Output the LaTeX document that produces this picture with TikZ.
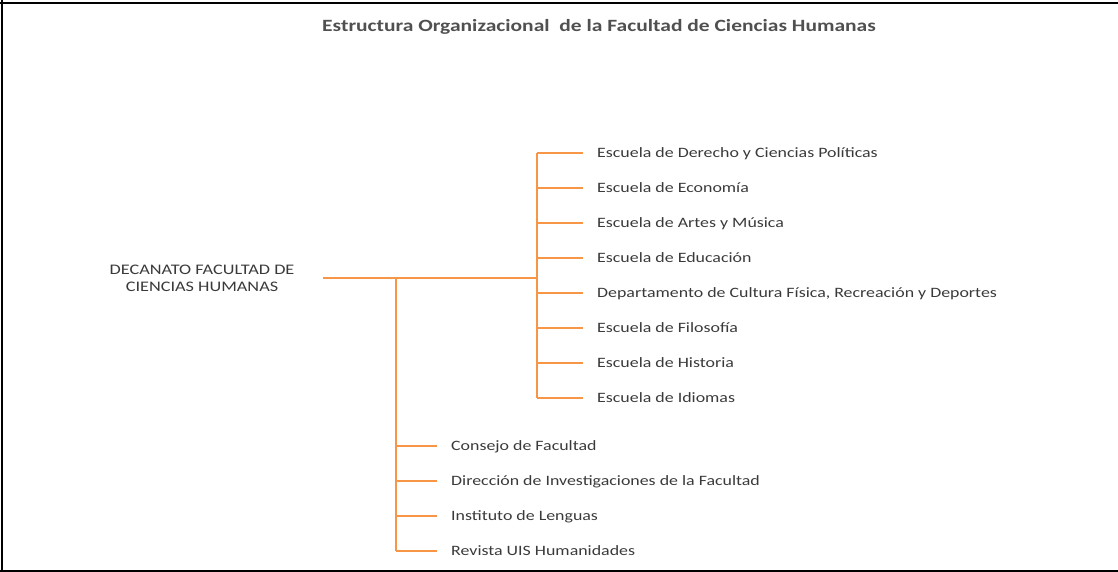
\documentclass[tikz,border=0pt]{standalone}
\usepackage{fontspec}
\setmainfont{Carlito}[FakeStretch=1.25]
\definecolor{naranja}{HTML}{F79646}
\definecolor{texto}{HTML}{3A3A3A}
\definecolor{titulo}{HTML}{505050}
\begin{document}
\begin{tikzpicture}[x=1pt,y=-1pt,line join=round,
	rama/.style={anchor=west,inner xsep=14pt,inner ysep=0pt,text height=10pt,text depth=1pt,text=texto,font=\fontsize{14.3}{17}\selectfont},
	linea/.style={naranja,line width=1.4pt}]
	\useasboundingbox (0,0) rectangle (1118,572);
	\draw[line width=2.2pt] (0,3)--(1118,3) (2,0)--(2,572) (0,571)--(1118,571);
	\node[text=titulo,font=\fontsize{17.2}{20}\selectfont\bfseries] (tit) at (599,27) {Estructura Organizacional\ \ de la Facultad de Ciencias Humanas};
	\node[align=center,minimum width=242pt,inner sep=0pt,text=texto,font=\fontsize{14.6}{17}\selectfont] (dec) at (202,278) {DECANATO FACULTAD DE\\CIENCIAS HUMANAS};
	\path (396,278) coordinate (H) (537,278) coordinate (F);
	\foreach \t [count=\i] in {Escuela de Derecho y Ciencias Políticas,Escuela de Economía,Escuela de Artes y Música,Escuela de Educación,{Departamento de Cultura Física, Recreación y Deportes},Escuela de Filosofía,Escuela de Historia,Escuela de Idiomas}
	\node[rama] (e\i) at (583,{118+35*\i}) {\t};
	\foreach \t [count=\i] in {Consejo de Facultad,Dirección de Investigaciones de la Facultad,Instituto de Lenguas,Revista UIS Humanidades}
	\node[rama] (u\i) at (437,{411+35*\i}) {\t};
	\draw[linea] (dec.east)--(F) (F|-e1.west)--(F|-e8.west) (H)--(H|-u4.west);
	\foreach \i in {1,...,8}
	\draw[linea] (F|-e\i.west)--(e\i.west);
	\foreach \i in {1,...,4}
	\draw[linea] (H|-u\i.west)--(u\i.west);
\end{tikzpicture}
\end{document}
